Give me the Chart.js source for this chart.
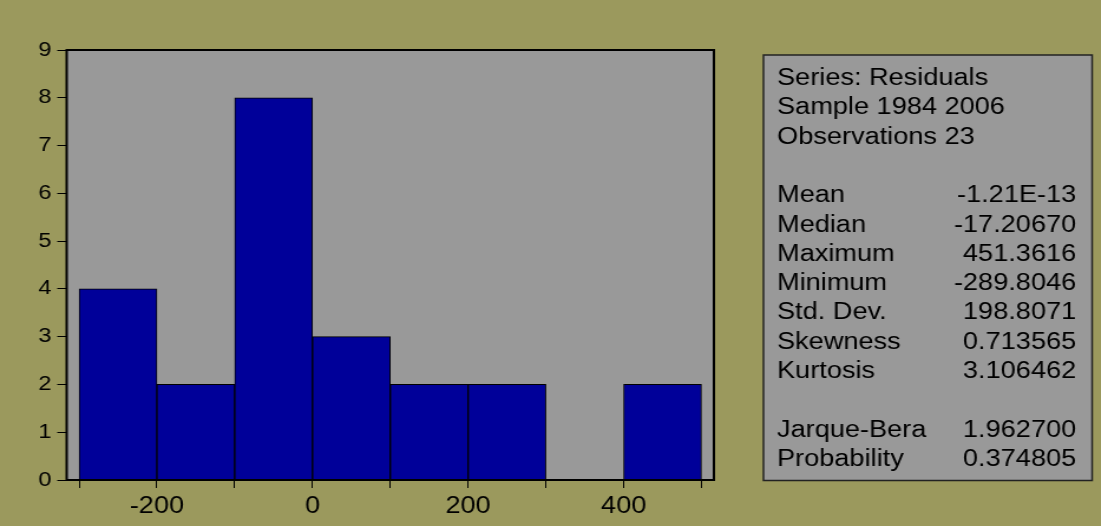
<!DOCTYPE html>
<html>
<head>
<meta charset="utf-8">
<script src="https://cdn.jsdelivr.net/npm/chart.js@4"></script>
<style>
  html, body { margin: 0; padding: 0; background: #9b995d; overflow: hidden; }
  /* the original picture is stretched sideways, so the whole chart is too */
  #wrap { width: 933px; height: 526px; transform: scaleX(1.18); transform-origin: 0 0; }
</style>
</head>
<body>
<div id="wrap"><canvas id="myChart"></canvas></div>
<script>
const binCenters = [-250, -150, -50, 50, 150, 250, 350, 450];
const counts = [4, 2, 8, 3, 2, 2, 0, 2];
const xTicks = [-300, -200, -100, 0, 100, 200, 300, 400, 500];
const xLabels = [-200, 0, 200, 400];

const headerLines = ['Series: Residuals', 'Sample 1984 2006', 'Observations 23'];
const statNames = ['Mean', 'Median', 'Maximum', 'Minimum', 'Std. Dev.', 'Skewness', 'Kurtosis'];
const statValues = ['-1.21E-13', '-17.20670', '451.3616', '-289.8046', '198.8071', '0.713565', '3.106462'];
const testNames = ['Jarque-Bera', 'Probability'];
const testValues = ['1.962700', '0.374805'];

const FONT = '"Liberation Sans", Arial, sans-serif';

const plotFrame = {
  id: 'plotFrame',
  beforeDatasetsDraw(chart) {
    const { ctx, chartArea: a } = chart;
    ctx.save();
    ctx.fillStyle = '#999999';
    ctx.fillRect(a.left, a.top, a.right - a.left, a.bottom - a.top);
    ctx.restore();
  },
  afterDatasetsDraw(chart) {
    const { ctx, chartArea: a } = chart;
    ctx.save();
    ctx.strokeStyle = '#000';
    ctx.lineWidth = 2;
    ctx.strokeRect(a.left, a.top, a.right - a.left, a.bottom - a.top);
    ctx.restore();
  }
};

const statsBox = {
  id: 'statsBox',
  afterDraw(chart) {
    const ctx = chart.ctx;
    const left = 647, right = 925.5, top = 55, bottom = 480.5;
    ctx.save();
    ctx.fillStyle = '#999999';
    ctx.fillRect(left, top, right - left, bottom - top);
    ctx.strokeStyle = '#222';
    ctx.lineWidth = 1.5;
    ctx.strokeRect(left, top, right - left, bottom - top);

    ctx.fillStyle = '#000';
    ctx.font = '23px ' + FONT;
    ctx.textBaseline = 'alphabetic';
    const textX = 658.5, valX = 912, rowY = (i) => 85 + i * 29.3;

    headerLines.forEach((t, i) => {
      ctx.textAlign = 'left';
      ctx.fillText(t, textX, rowY(i));
    });
    statNames.forEach((t, i) => {
      ctx.textAlign = 'left';
      ctx.fillText(t, textX, rowY(i + 4));
      ctx.textAlign = 'right';
      ctx.fillText(statValues[i], valX, rowY(i + 4));
    });
    testNames.forEach((t, i) => {
      ctx.textAlign = 'left';
      ctx.fillText(t, textX, rowY(i + 12));
      ctx.textAlign = 'right';
      ctx.fillText(testValues[i], valX, rowY(i + 12));
    });
    ctx.restore();
  }
};

function makeChart() {
  const ctx = document.getElementById('myChart');
  return new Chart(ctx, {
    type: 'bar',
    data: {
      datasets: [{
        data: binCenters.map((x, i) => ({ x: x, y: counts[i] })),
        backgroundColor: '#000099',
        borderColor: '#000',
        borderWidth: 1,
        barPercentage: 1,
        categoryPercentage: 1
      }]
    },
    options: {
      responsive: true,
      maintainAspectRatio: false,
      animation: false,
      layout: { padding: { top: 50, right: 328, bottom: 0, left: 0 } },
      plugins: { legend: { display: false }, tooltip: { enabled: false } },
      scales: {
        x: {
          type: 'linear',
          offset: false,
          min: -316,
          max: 516,
          afterBuildTicks: (s) => { s.ticks = xTicks.map((v) => ({ value: v })); },
          afterFit: (s) => { s.height = 46; },
          ticks: {
            autoSkip: false,
            maxRotation: 0,
            color: '#000',
            padding: 5,
            font: { family: FONT, size: 23 },
            callback: (v) => (xLabels.includes(v) ? String(v) : '')
          },
          grid: { offset: false, drawOnChartArea: false, drawTicks: true, tickLength: 8, color: '#000' },
          border: { display: false }
        },
        y: {
          min: 0,
          max: 9,
          afterFit: (s) => { s.width = 56.5; },
          ticks: {
            stepSize: 1,
            color: '#000',
            padding: 5,
            font: { family: FONT, size: 20 }
          },
          grid: { drawOnChartArea: false, drawTicks: true, tickLength: 8, color: '#000' },
          border: { display: false }
        }
      }
    },
    plugins: [plotFrame, statsBox]
  });
}

document.addEventListener('DOMContentLoaded', () => makeChart());
</script>
</body>
</html>
